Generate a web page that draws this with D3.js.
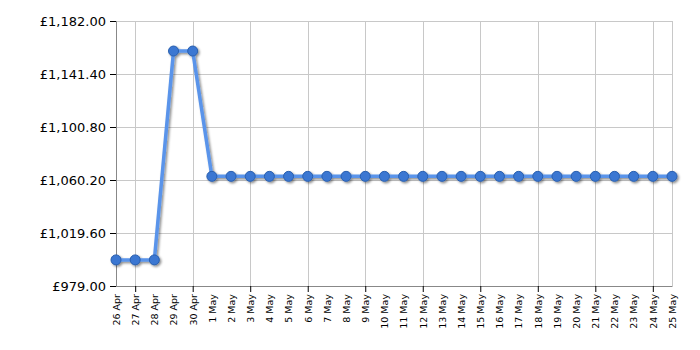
<!DOCTYPE html>
<html>
<head>
<meta charset="utf-8">
<script src="https://cdn.jsdelivr.net/npm/d3@7"></script>
<style>
  body { margin: 0; background: #fff; }
  svg text { font-family: "DejaVu Sans", Verdana, sans-serif; fill: #000; }
</style>
</head>
<body>
<svg id="chart" width="700" height="350"></svg>
<script>
  // data
  const dates = ['26 Apr', '27 Apr', '28 Apr', '29 Apr', '30 Apr', '1 May', '2 May', '3 May', '4 May', '5 May',
    '6 May', '7 May', '8 May', '9 May', '10 May', '11 May', '12 May', '13 May', '14 May', '15 May',
    '16 May', '17 May', '18 May', '19 May', '20 May', '21 May', '22 May', '23 May', '24 May', '25 May'];
  const prices = [999, 999, 999, 1159, 1159, 1063, 1063, 1063, 1063, 1063,
    1063, 1063, 1063, 1063, 1063, 1063, 1063, 1063, 1063, 1063,
    1063, 1063, 1063, 1063, 1063, 1063, 1063, 1063, 1063, 1063];
  const yTicks = [979, 1019.6, 1060.2, 1100.8, 1141.4, 1182];
  const gridDates = ['27 Apr', '30 Apr', '3 May', '6 May', '9 May', '12 May', '15 May', '18 May', '21 May', '24 May'];

  const margin = {top: 21, right: 28, bottom: 64, left: 116},
    width = 700 - margin.left - margin.right,
    height = 350 - margin.top - margin.bottom;

  const data = dates.map(function (d, i) { return {date: d, value: prices[i]}; });

  const x = d3.scalePoint().domain(dates).range([0, width]);
  const y = d3.scaleLinear().domain([979, 1182]).range([height, 0]);

  const svg = d3.select("#chart");
  const defs = svg.append("defs");
  const f = defs.append("filter").attr("id", "shadow")
    .attr("x", "-10%").attr("y", "-10%").attr("width", "130%").attr("height", "130%");
  f.append("feDropShadow").attr("dx", 1.5).attr("dy", 1.5).attr("stdDeviation", 1.2)
    .attr("flood-color", "#000").attr("flood-opacity", 0.45);

  const g = svg.append("g")
    .attr("transform", "translate(" + margin.left + "," + margin.top + ")");

  // grid
  g.selectAll(".hgrid").data(yTicks).enter().append("line")
    .attr("x1", 0).attr("x2", width)
    .attr("y1", function (d) { return Math.round(y(d)) + 0.5; })
    .attr("y2", function (d) { return Math.round(y(d)) + 0.5; })
    .style("stroke", "#c8c8c8");
  g.selectAll(".vgrid").data(gridDates.concat(['25 May'])).enter().append("line")
    .attr("y1", 0).attr("y2", height)
    .attr("x1", function (d) { return Math.round(x(d)) + 0.5; })
    .attr("x2", function (d) { return Math.round(x(d)) + 0.5; })
    .style("stroke", "#c8c8c8");

  // axes
  const yAxis = g.append("g")
    .call(d3.axisLeft(y).tickValues(yTicks).tickSize(6).tickPadding(4)
      .tickFormat(function (d) { return "£" + d3.format(",.2f")(d); }));
  yAxis.select(".domain").style("stroke", "#888");
  yAxis.selectAll(".tick line").style("stroke", "#000");
  yAxis.selectAll("text").style("font-size", "13px");

  const xAxis = g.append("g")
    .attr("transform", "translate(0," + height + ")")
    .call(d3.axisBottom(x).tickSize(0).tickPadding(0));
  xAxis.select(".domain").style("stroke", "#888");
  xAxis.selectAll("text")
    .style("font-size", "9.5px")
    .style("text-anchor", "end")
    .attr("transform", "rotate(-90)")
    .attr("x", -8).attr("y", 0).attr("dy", "0.35em");
  xAxis.selectAll(".tick").filter(function (d) { return gridDates.indexOf(d) >= 0; })
    .append("line").attr("y2", 6).style("stroke", "#000");

  // line + markers
  const line = d3.line()
    .x(function (d) { return x(d.date); })
    .y(function (d) { return y(d.value); });

  const series = g.append("g").attr("filter", "url(#shadow)");
  series.append("path")
    .datum(data)
    .attr("d", line)
    .style("fill", "none")
    .style("stroke", "#5a94ea")
    .style("stroke-width", 3.5)
    .style("stroke-linejoin", "round");

  series.selectAll("circle").data(data).enter().append("circle")
    .attr("cx", function (d) { return x(d.date); })
    .attr("cy", function (d) { return y(d.value); })
    .attr("r", 5)
    .style("fill", "#3a77d2")
    .style("stroke", "#2a5fae")
    .style("stroke-width", 1);
</script>
</body>
</html>
